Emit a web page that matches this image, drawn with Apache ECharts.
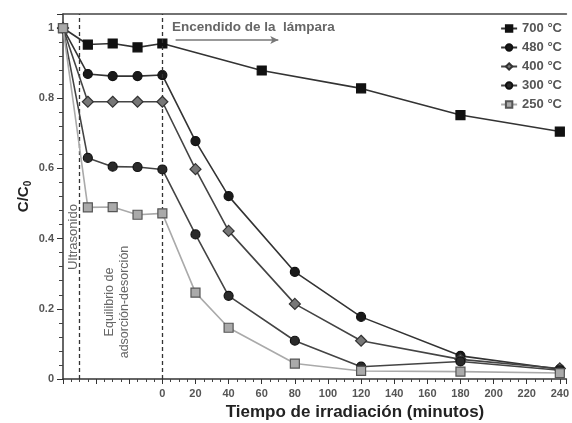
<!DOCTYPE html>
<html>
<head>
<meta charset="utf-8">
<script src="https://cdn.jsdelivr.net/npm/echarts@6/dist/echarts.min.js"></script>
<style>html,body{margin:0;padding:0;background:#fff;}#c{width:572px;height:423px;}</style>
</head>
<body>
<div id="c"></div>
<script>
// Data
var seriesNames = ['700 °C', '480 °C', '400 °C', '300 °C', '250 °C'];
var x700 = [-60, -45, -30, -15, 0, 60, 120, 180, 240];
var y700 = [1, 0.953, 0.956, 0.945, 0.956, 0.879, 0.828, 0.752, 0.705];
var xOther = [-60, -45, -30, -15, 0, 20, 40, 80, 120, 180, 240];
var y480 = [1, 0.869, 0.863, 0.863, 0.866, 0.678, 0.521, 0.305, 0.177, 0.066, 0.028];
var y400 = [1, 0.79, 0.79, 0.79, 0.79, 0.598, 0.422, 0.214, 0.109, 0.056, 0.03];
var y300 = [1, 0.63, 0.605, 0.604, 0.597, 0.412, 0.237, 0.109, 0.035, 0.05, 0.025];
var y250 = [1, 0.489, 0.49, 0.468, 0.472, 0.246, 0.146, 0.044, 0.023, 0.021, 0.017];
var ultrasoundEnd = -50;
var lampOn = 0;
var xTickLabels = [0, 20, 40, 60, 80, 100, 120, 140, 160, 180, 200, 220, 240];

function pairs(xs, ys) { return xs.map(function (x, i) { return [x, ys[i]]; }); }

var styles = [
  {sym: 'rect', size: 9, fill: '#111', border: '#111', line: '#333'},
  {sym: 'circle', size: 9, fill: '#1a1a1a', border: '#111', line: '#333'},
  {sym: 'diamond', size: 11, fill: '#777', border: '#333', line: '#444'},
  {sym: 'circle', size: 9, fill: '#2a2a2a', border: '#111', line: '#444'},
  {sym: 'rect', size: 9, fill: '#aaa', border: '#555', line: '#aaa'}
];
var datas = [pairs(x700, y700), pairs(xOther, y480), pairs(xOther, y400), pairs(xOther, y300), pairs(xOther, y250)];

var series = seriesNames.map(function (n, i) {
  var s = styles[i];
  return {
    name: n, type: 'line', data: datas[i], symbol: s.sym, symbolSize: s.size,
    lineStyle: {color: s.line, width: 1.6},
    itemStyle: {color: s.fill, borderColor: s.border, borderWidth: 1.2},
    z: 3 + i, emphasis: {disabled: true}
  };
});
series.push({
  type: 'line', data: [], silent: true,
  markLine: {
    silent: true, symbol: ['none', 'none'], animation: false,
    label: {show: false},
    lineStyle: {color: '#333', type: [4, 3], width: 1.3},
    data: [{xAxis: ultrasoundEnd}, {xAxis: lampOn}]
  }
});
series.push({
  type: 'line', data: [], silent: true,
  markLine: {
    silent: true, symbol: ['none', 'arrow'], symbolSize: [6, 8], animation: false,
    label: {show: false},
    lineStyle: {color: '#777', type: 'solid', width: 1.5},
    data: [[{coord: [8, 0.966]}, {coord: [70, 0.966]}]]
  }
});

var chart = echarts.init(document.getElementById('c'));
chart.setOption({
  animation: false,
  backgroundColor: '#fff',
  grid: {left: 63, right: 2, top: 14, bottom: 44},
  legend: {
    data: seriesNames, orient: 'vertical', right: 5, top: 17, itemWidth: 16, itemHeight: 8, itemGap: 6,
    textStyle: {fontFamily: 'Liberation Sans', fontSize: 13, fontWeight: 'bold', color: '#555'}
  },
  xAxis: [{
    type: 'value', min: -60, max: 244, interval: 20,
    axisLine: {show: true, onZero: false, lineStyle: {color: '#333', width: 1.5}},
    axisTick: {show: true, length: 5, lineStyle: {color: '#333'}},
    minorTick: {show: true, splitNumber: 4, length: 3, lineStyle: {color: '#444'}},
    splitLine: {show: false},
    axisLabel: {
      fontFamily: 'Liberation Sans', fontSize: 11, fontWeight: 'bold', color: '#555', margin: 9,
      formatter: function (v) { return xTickLabels.indexOf(v) >= 0 ? String(v) : ''; }
    }
  }, {
    type: 'value', position: 'top', min: -60, max: 244,
    axisLine: {show: true, onZero: false, lineStyle: {color: '#444', width: 1.5}},
    axisTick: {show: false}, axisLabel: {show: false}, splitLine: {show: false}
  }],
  yAxis: {
    type: 'value', min: 0, max: 1.04, interval: 0.2,
    axisLine: {show: true, onZero: false, lineStyle: {color: '#333', width: 1.5}},
    axisTick: {show: true, length: 6, lineStyle: {color: '#333'}},
    minorTick: {show: true, splitNumber: 5, length: 4, lineStyle: {color: '#444'}},
    splitLine: {show: false},
    axisLabel: {
      fontFamily: 'Liberation Sans', fontSize: 11, fontWeight: 'bold', color: '#555', margin: 9,
      showMaxLabel: false,
      formatter: function (v) { return Math.abs(v - 1.04) < 1e-6 ? '' : String(Math.round(v * 10) / 10); }
    },
    name: '{a|C/C}{b|0}', nameLocation: 'middle', nameGap: 30, nameRotate: 90, nameMoveOverlap: false,
    nameTextStyle: {
      rich: {
        a: {fontFamily: 'Liberation Sans', fontSize: 15, fontWeight: 'bold', color: '#222'},
        b: {fontFamily: 'Liberation Sans', fontSize: 10, fontWeight: 'bold', color: '#222', verticalAlign: 'bottom', padding: [8, 0, 0, 0]}
      }
    }
  },
  graphic: [
    {type: 'text', x: 73, y: 237, rotation: Math.PI / 2,
     style: {text: 'Ultrasonido', fill: '#666', font: '13px "Liberation Sans"', align: 'center', verticalAlign: 'middle'}},
    {type: 'text', x: 117, y: 302, rotation: Math.PI / 2,
     style: {text: 'Equilibrio de\nadsorción-desorción', fill: '#666', font: '12.5px "Liberation Sans"', align: 'center', verticalAlign: 'middle', lineHeight: 15}},
    {type: 'text', x: 172, y: 27,
     style: {text: 'Encendido de la  lámpara', fill: '#666', font: 'bold 13.5px "Liberation Sans"', align: 'left', verticalAlign: 'middle'}},
    {type: 'text', x: 355, y: 412,
     style: {text: 'Tiempo de irradiación (minutos)', fill: '#222', font: 'bold 17px "Liberation Sans"', align: 'center', verticalAlign: 'middle'}}
  ],
  series: series
});
</script>
</body>
</html>
